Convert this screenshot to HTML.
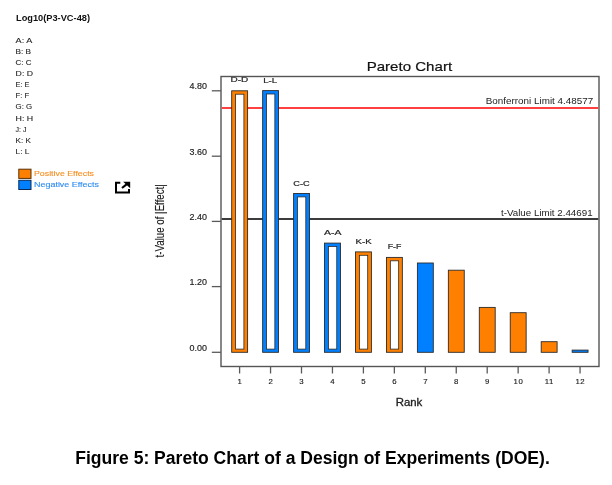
<!DOCTYPE html><html><head><meta charset="utf-8"><style>
html,body{margin:0;padding:0;background:#fff;width:612px;height:485px;overflow:hidden}
svg{position:absolute;left:0;top:0;will-change:transform}
text{font-family:"Liberation Sans",sans-serif}
</style></head><body>
<svg width="612" height="485" viewBox="0 0 612 485">

<text x="16" y="20.9" font-size="8.3" font-weight="bold" fill="#111" textLength="74" lengthAdjust="spacingAndGlyphs">Log10(P3-VC-48)</text>
<text x="15.6" y="42.80" font-size="7.5" fill="#1e1e1e" stroke="#1e1e1e" stroke-width="0.1" textLength="16.7" lengthAdjust="spacingAndGlyphs">A: A</text>
<text x="15.6" y="53.91" font-size="7.5" fill="#1e1e1e" stroke="#1e1e1e" stroke-width="0.1" textLength="15.5" lengthAdjust="spacingAndGlyphs">B: B</text>
<text x="15.6" y="65.02" font-size="7.5" fill="#1e1e1e" stroke="#1e1e1e" stroke-width="0.1" textLength="15.9" lengthAdjust="spacingAndGlyphs">C: C</text>
<text x="15.6" y="76.13" font-size="7.5" fill="#1e1e1e" stroke="#1e1e1e" stroke-width="0.1" textLength="17.4" lengthAdjust="spacingAndGlyphs">D: D</text>
<text x="15.6" y="87.24" font-size="7.5" fill="#1e1e1e" stroke="#1e1e1e" stroke-width="0.1" textLength="13.9" lengthAdjust="spacingAndGlyphs">E: E</text>
<text x="15.6" y="98.35" font-size="7.5" fill="#1e1e1e" stroke="#1e1e1e" stroke-width="0.1" textLength="13.7" lengthAdjust="spacingAndGlyphs">F: F</text>
<text x="15.6" y="109.46" font-size="7.5" fill="#1e1e1e" stroke="#1e1e1e" stroke-width="0.1" textLength="16.6" lengthAdjust="spacingAndGlyphs">G: G</text>
<text x="15.6" y="120.57" font-size="7.5" fill="#1e1e1e" stroke="#1e1e1e" stroke-width="0.1" textLength="17.6" lengthAdjust="spacingAndGlyphs">H: H</text>
<text x="15.6" y="131.68" font-size="7.5" fill="#1e1e1e" stroke="#1e1e1e" stroke-width="0.1" textLength="10.9" lengthAdjust="spacingAndGlyphs">J: J</text>
<text x="15.6" y="142.79" font-size="7.5" fill="#1e1e1e" stroke="#1e1e1e" stroke-width="0.1" textLength="15.4" lengthAdjust="spacingAndGlyphs">K: K</text>
<text x="15.6" y="153.90" font-size="7.5" fill="#1e1e1e" stroke="#1e1e1e" stroke-width="0.1" textLength="13.8" lengthAdjust="spacingAndGlyphs">L: L</text>
<rect x="18.8" y="169.2" width="12.2" height="9.2" fill="#ff8000" stroke="#5a3000" stroke-width="1"/>
<rect x="18.8" y="180.3" width="12.2" height="9.2" fill="#0080ff" stroke="#0a2a55" stroke-width="1"/>
<text x="34" y="176" font-size="7.7" fill="#f58f22" stroke="#f58f22" stroke-width="0.12" textLength="60" lengthAdjust="spacingAndGlyphs">Positive Effects</text>
<text x="34" y="187.1" font-size="7.7" fill="#2f8cf0" stroke="#2f8cf0" stroke-width="0.12" textLength="65" lengthAdjust="spacingAndGlyphs">Negative Effects</text>
<path d="M120.3,182.7 H116 V192.5 H129 V189" fill="none" stroke="#000" stroke-width="2"/>
<path d="M123.2,181.7 H130.2 V188.3 Z" fill="#000"/>
<path d="M122,188 L127.5,183.6" fill="none" stroke="#000" stroke-width="2.2"/>
<text x="366.7" y="70.8" font-size="12.6" fill="#111" stroke="#111" stroke-width="0.2" textLength="85.4" lengthAdjust="spacingAndGlyphs">Pareto Chart</text>
<rect x="221" y="76.5" width="378" height="290" fill="none" stroke="#555" stroke-width="1.4"/>
<line x1="211.8" y1="90.8" x2="221" y2="90.8" stroke="#5a5a5a" stroke-width="1.3"/>
<text x="207" y="89.4" font-size="8.2" fill="#222" stroke="#222" stroke-width="0.15" text-anchor="end" textLength="17.4" lengthAdjust="spacingAndGlyphs">4.80</text>
<line x1="211.8" y1="156.2" x2="221" y2="156.2" stroke="#5a5a5a" stroke-width="1.3"/>
<text x="207" y="154.8" font-size="8.2" fill="#222" stroke="#222" stroke-width="0.15" text-anchor="end" textLength="17.4" lengthAdjust="spacingAndGlyphs">3.60</text>
<line x1="211.8" y1="221.4" x2="221" y2="221.4" stroke="#5a5a5a" stroke-width="1.3"/>
<text x="207" y="220.0" font-size="8.2" fill="#222" stroke="#222" stroke-width="0.15" text-anchor="end" textLength="17.4" lengthAdjust="spacingAndGlyphs">2.40</text>
<line x1="211.8" y1="286.6" x2="221" y2="286.6" stroke="#5a5a5a" stroke-width="1.3"/>
<text x="207" y="285.2" font-size="8.2" fill="#222" stroke="#222" stroke-width="0.15" text-anchor="end" textLength="17.4" lengthAdjust="spacingAndGlyphs">1.20</text>
<line x1="211.8" y1="352.3" x2="221" y2="352.3" stroke="#5a5a5a" stroke-width="1.3"/>
<text x="207" y="350.9" font-size="8.2" fill="#222" stroke="#222" stroke-width="0.15" text-anchor="end" textLength="17.4" lengthAdjust="spacingAndGlyphs">0.00</text>
<line x1="221.7" y1="108" x2="598.3" y2="108" stroke="#ff4040" stroke-width="2"/>
<line x1="221.7" y1="219" x2="598.3" y2="219" stroke="#3c3c3c" stroke-width="2"/>
<text x="593.2" y="103.9" font-size="8.6" fill="#222" text-anchor="end" textLength="107.4" lengthAdjust="spacingAndGlyphs">Bonferroni Limit 4.48577</text>
<text x="592.6" y="215.5" font-size="8.6" fill="#222" text-anchor="end" textLength="91.6" lengthAdjust="spacingAndGlyphs">t-Value Limit 2.44691</text>
<rect x="231.70" y="90.80" width="15.9" height="261.50" fill="#ff8000" stroke="#2b2b2b" stroke-width="0.9"/>
<rect x="235.60" y="94.20" width="8.3" height="254.90" fill="#fff" stroke="#2b2b2b" stroke-width="0.8"/>
<text x="230.50" y="82.30" font-size="7.6" fill="#222" stroke="#222" stroke-width="0.2" textLength="17.7" lengthAdjust="spacingAndGlyphs">D-D</text>
<rect x="262.65" y="90.60" width="15.9" height="261.70" fill="#0080ff" stroke="#2b2b2b" stroke-width="0.9"/>
<rect x="266.55" y="94.00" width="8.3" height="255.10" fill="#fff" stroke="#2b2b2b" stroke-width="0.8"/>
<text x="263.20" y="82.80" font-size="7.6" fill="#222" stroke="#222" stroke-width="0.2" textLength="13.899999999999999" lengthAdjust="spacingAndGlyphs">L-L</text>
<rect x="293.60" y="193.50" width="15.9" height="158.80" fill="#0080ff" stroke="#2b2b2b" stroke-width="0.9"/>
<rect x="297.50" y="196.90" width="8.3" height="152.20" fill="#fff" stroke="#2b2b2b" stroke-width="0.8"/>
<text x="293.20" y="185.70" font-size="7.6" fill="#222" stroke="#222" stroke-width="0.2" textLength="16.5" lengthAdjust="spacingAndGlyphs">C-C</text>
<rect x="324.55" y="243.10" width="15.9" height="109.20" fill="#0080ff" stroke="#2b2b2b" stroke-width="0.9"/>
<rect x="328.45" y="246.50" width="8.3" height="102.60" fill="#fff" stroke="#2b2b2b" stroke-width="0.8"/>
<text x="324.10" y="235.10" font-size="7.6" fill="#222" stroke="#222" stroke-width="0.2" textLength="17.4" lengthAdjust="spacingAndGlyphs">A-A</text>
<rect x="355.50" y="251.90" width="15.9" height="100.40" fill="#ff8000" stroke="#2b2b2b" stroke-width="0.9"/>
<rect x="359.40" y="255.30" width="8.3" height="93.80" fill="#fff" stroke="#2b2b2b" stroke-width="0.8"/>
<text x="355.50" y="243.60" font-size="7.6" fill="#222" stroke="#222" stroke-width="0.2" textLength="16.1" lengthAdjust="spacingAndGlyphs">K-K</text>
<rect x="386.45" y="257.40" width="15.9" height="94.90" fill="#ff8000" stroke="#2b2b2b" stroke-width="0.9"/>
<rect x="390.35" y="260.80" width="8.3" height="88.30" fill="#fff" stroke="#2b2b2b" stroke-width="0.8"/>
<text x="387.70" y="249.20" font-size="7.6" fill="#222" stroke="#222" stroke-width="0.2" textLength="13.7" lengthAdjust="spacingAndGlyphs">F-F</text>
<rect x="417.40" y="263.00" width="15.9" height="89.30" fill="#0080ff" stroke="#2b2b2b" stroke-width="0.9"/>
<rect x="448.35" y="270.20" width="15.9" height="82.10" fill="#ff8000" stroke="#2b2b2b" stroke-width="0.9"/>
<rect x="479.30" y="307.40" width="15.9" height="44.90" fill="#ff8000" stroke="#2b2b2b" stroke-width="0.9"/>
<rect x="510.25" y="312.70" width="15.9" height="39.60" fill="#ff8000" stroke="#2b2b2b" stroke-width="0.9"/>
<rect x="541.20" y="341.70" width="15.9" height="10.60" fill="#ff8000" stroke="#2b2b2b" stroke-width="0.9"/>
<rect x="572.15" y="350.10" width="15.9" height="2.20" fill="#0080ff" stroke="#2b2b2b" stroke-width="0.9"/>
<line x1="239.60" y1="366.5" x2="239.60" y2="373.5" stroke="#5a5a5a" stroke-width="1.3"/>
<text x="239.90" y="383.8" font-size="7.8" fill="#222" stroke="#222" stroke-width="0.15" text-anchor="middle" letter-spacing="0.6">1</text>
<line x1="270.55" y1="366.5" x2="270.55" y2="373.5" stroke="#5a5a5a" stroke-width="1.3"/>
<text x="270.85" y="383.8" font-size="7.8" fill="#222" stroke="#222" stroke-width="0.15" text-anchor="middle" letter-spacing="0.6">2</text>
<line x1="301.50" y1="366.5" x2="301.50" y2="373.5" stroke="#5a5a5a" stroke-width="1.3"/>
<text x="301.80" y="383.8" font-size="7.8" fill="#222" stroke="#222" stroke-width="0.15" text-anchor="middle" letter-spacing="0.6">3</text>
<line x1="332.45" y1="366.5" x2="332.45" y2="373.5" stroke="#5a5a5a" stroke-width="1.3"/>
<text x="332.75" y="383.8" font-size="7.8" fill="#222" stroke="#222" stroke-width="0.15" text-anchor="middle" letter-spacing="0.6">4</text>
<line x1="363.40" y1="366.5" x2="363.40" y2="373.5" stroke="#5a5a5a" stroke-width="1.3"/>
<text x="363.70" y="383.8" font-size="7.8" fill="#222" stroke="#222" stroke-width="0.15" text-anchor="middle" letter-spacing="0.6">5</text>
<line x1="394.35" y1="366.5" x2="394.35" y2="373.5" stroke="#5a5a5a" stroke-width="1.3"/>
<text x="394.65" y="383.8" font-size="7.8" fill="#222" stroke="#222" stroke-width="0.15" text-anchor="middle" letter-spacing="0.6">6</text>
<line x1="425.30" y1="366.5" x2="425.30" y2="373.5" stroke="#5a5a5a" stroke-width="1.3"/>
<text x="425.60" y="383.8" font-size="7.8" fill="#222" stroke="#222" stroke-width="0.15" text-anchor="middle" letter-spacing="0.6">7</text>
<line x1="456.25" y1="366.5" x2="456.25" y2="373.5" stroke="#5a5a5a" stroke-width="1.3"/>
<text x="456.55" y="383.8" font-size="7.8" fill="#222" stroke="#222" stroke-width="0.15" text-anchor="middle" letter-spacing="0.6">8</text>
<line x1="487.20" y1="366.5" x2="487.20" y2="373.5" stroke="#5a5a5a" stroke-width="1.3"/>
<text x="487.50" y="383.8" font-size="7.8" fill="#222" stroke="#222" stroke-width="0.15" text-anchor="middle" letter-spacing="0.6">9</text>
<line x1="518.15" y1="366.5" x2="518.15" y2="373.5" stroke="#5a5a5a" stroke-width="1.3"/>
<text x="518.45" y="383.8" font-size="7.8" fill="#222" stroke="#222" stroke-width="0.15" text-anchor="middle" letter-spacing="0.6">10</text>
<line x1="549.10" y1="366.5" x2="549.10" y2="373.5" stroke="#5a5a5a" stroke-width="1.3"/>
<text x="549.40" y="383.8" font-size="7.8" fill="#222" stroke="#222" stroke-width="0.15" text-anchor="middle" letter-spacing="0.6">11</text>
<line x1="580.05" y1="366.5" x2="580.05" y2="373.5" stroke="#5a5a5a" stroke-width="1.3"/>
<text x="580.35" y="383.8" font-size="7.8" fill="#222" stroke="#222" stroke-width="0.15" text-anchor="middle" letter-spacing="0.6">12</text>
<text x="395.7" y="405.9" font-size="10" fill="#222" stroke="#222" stroke-width="0.3" textLength="26.6" lengthAdjust="spacingAndGlyphs">Rank</text>
<text transform="translate(163.7,257.4) rotate(-90)" x="0" y="0" font-size="13.1" fill="#222" stroke="#222" stroke-width="0.12" textLength="73.2" lengthAdjust="spacingAndGlyphs">t-Value of |Effect|</text>
<text x="75.2" y="463.7" font-size="17.6" font-weight="bold" fill="#000" textLength="474.6" lengthAdjust="spacingAndGlyphs">Figure 5: Pareto Chart of a Design of Experiments (DOE).</text>
</svg></body></html>
